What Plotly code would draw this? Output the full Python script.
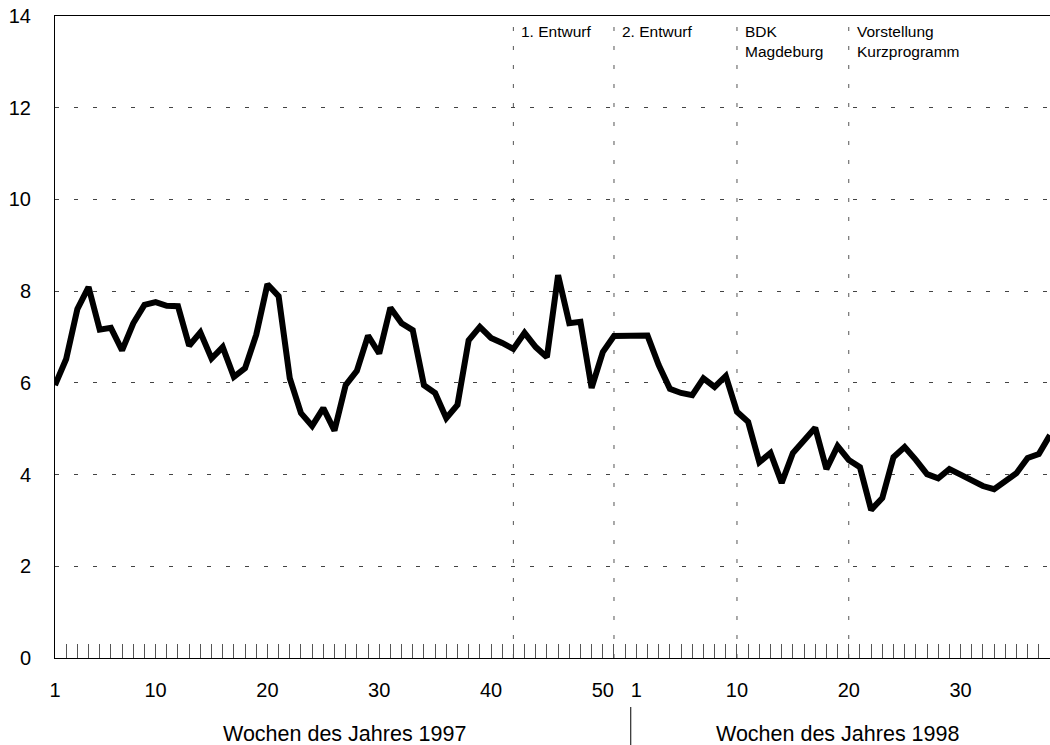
import plotly.graph_objects as go

# ---- data ----
weeks_1997 = list(range(1, 53))
values_1997 = [5.95, 6.52, 7.61, 8.09, 7.16, 7.2, 6.71, 7.3, 7.7, 7.76,
               7.68, 7.67, 6.81, 7.1, 6.53, 6.78, 6.13, 6.32, 7.05, 8.15,
               7.89, 6.1, 5.34, 5.06, 5.45, 4.96, 5.95, 6.26, 7.03, 6.64,
               7.64, 7.3, 7.15, 5.95, 5.78, 5.23, 5.52, 6.93, 7.22, 6.98,
               6.87, 6.74, 7.09, 6.78, 6.56, 8.35, 7.3, 7.33, 5.89, 6.67,
               7.02, 7.03]
weeks_1998 = list(range(1, 39))
values_1998 = [7.03, 7.03, 6.39, 5.87, 5.78, 5.73, 6.1, 5.91, 6.15, 5.37,
               5.15, 4.27, 4.47, 3.82, 4.47, 4.75, 5.02, 4.12, 4.62, 4.32,
               4.16, 3.23, 3.49, 4.38, 4.6, 4.32, 4.01, 3.92, 4.12, 4.0,
               3.88, 3.75, 3.68, 3.84, 4.03, 4.36, 4.45, 4.86]
labeled_weeks_1997 = [1, 10, 20, 30, 40, 50]
labeled_weeks_1998 = [1, 10, 20, 30]
y_ticks = [0, 2, 4, 6, 8, 10, 12, 14]
events = [("1. Entwurf", 1997, 42),
          ("2. Entwurf", 1997, 51),
          ("BDK<br>Magdeburg", 1998, 10),
          ("Vorstellung<br>Kurzprogramm", 1998, 20)]
year_titles = ["Wochen des Jahres 1997", "Wochen des Jahres 1998"]

FONT = "Liberation Sans, Arial, sans-serif"
n97 = len(weeks_1997)


def pos(year, week):
    return week - 1 if year == 1997 else n97 + week - 1


x = [pos(1997, w) for w in weeks_1997] + [pos(1998, w) for w in weeks_1998]
y = values_1997 + values_1998
x_max = x[-1]

tickvals = [pos(1997, w) for w in labeled_weeks_1997] + [pos(1998, w) for w in labeled_weeks_1998]
ticktext = [str(w) for w in labeled_weeks_1997] + [str(w) for w in labeled_weeks_1998]

fig = go.Figure()
fig.add_trace(go.Scatter(x=x, y=y, mode="lines",
                         line=dict(color="black", width=6),
                         hoverinfo="skip", showlegend=False))
# invisible helper trace for label axis
fig.add_trace(go.Scatter(x=[x[0]], y=[None], xaxis="x2", mode="lines",
                         showlegend=False, hoverinfo="skip"))

for label, yr, wk in events:
    xp = pos(yr, wk)
    fig.add_shape(type="line", xref="x", yref="paper", x0=xp, x1=xp, y0=0, y1=1,
                  line=dict(color="#555555", width=1, dash="4px,15px"), layer="below")
    fig.add_annotation(x=xp, y=1, xref="x", yref="paper", text=label,
                       xanchor="left", yanchor="top", align="left",
                       xshift=6, yshift=-5, showarrow=False,
                       font=dict(family=FONT, size=15.5, color="black"))

# separator between the years under the axis
fig.add_shape(type="line", xref="x", yref="paper",
              x0=n97 - 0.5, x1=n97 - 0.5, y0=-0.0763, y1=-0.14,
              line=dict(color="black", width=1))

fig.add_annotation(x=0.291, y=-0.118, xref="paper", yref="paper", text=year_titles[0],
                   showarrow=False, xanchor="center", yanchor="middle",
                   font=dict(family=FONT, size=21.5, color="black"))
fig.add_annotation(x=0.786, y=-0.118, xref="paper", yref="paper", text=year_titles[1],
                   showarrow=False, xanchor="center", yanchor="middle",
                   font=dict(family=FONT, size=21.5, color="black"))

fig.update_layout(
    width=1050, height=745,
    margin=dict(l=55, r=0, t=16, b=87),
    paper_bgcolor="white", plot_bgcolor="white",
    font=dict(family=FONT, color="black"),
    xaxis=dict(range=[0, x_max], tickmode="linear", tick0=0, dtick=1,
               ticks="inside", ticklen=14, tickcolor="#555555", tickwidth=1,
               showticklabels=False, showgrid=False, zeroline=False,
               showline=True, linecolor="black", linewidth=1, mirror=True),
    xaxis2=dict(range=[0, x_max], overlaying="x", side="bottom", anchor="y",
                tickmode="array", tickvals=tickvals, ticktext=ticktext,
                ticks="", showgrid=False, zeroline=False, showline=False,
                ticklabelstandoff=18,
                tickfont=dict(family=FONT, size=20, color="black")),
    yaxis=dict(range=[0, 14], tickmode="array", tickvals=y_ticks,
               ticks="", showgrid=True, gridcolor="#444444", gridwidth=1,
               griddash="4px,15px", zeroline=False,
               showline=True, linecolor="black", linewidth=1,
               ticklabelstandoff=19,
               tickfont=dict(family=FONT, size=20, color="black")),
)

fig.write_html("out.html", config={"displayModeBar": False},
               post_script="document.body.style.margin='0';document.body.style.overflow='hidden';")
